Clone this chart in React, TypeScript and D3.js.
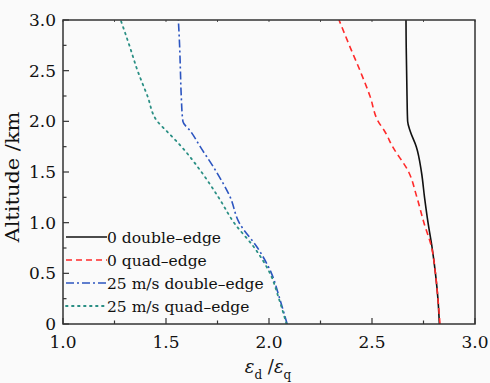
import React from "react";
import * as d3 from "d3";

const altitude = [0, 0.25, 0.5, 0.75, 1.0, 1.25, 1.5, 1.75, 1.9, 2.0, 2.25, 2.5, 2.75, 3.0];
const zeroDouble = [2.827, 2.82, 2.808, 2.792, 2.772, 2.755, 2.74, 2.715, 2.686, 2.673, 2.67, 2.668, 2.666, 2.665];
const zeroQuad = [2.83, 2.82, 2.808, 2.79, 2.752, 2.718, 2.678, 2.6, 2.562, 2.53, 2.49, 2.442, 2.39, 2.34];
const windDouble = [2.088, 2.052, 2.012, 1.945, 1.855, 1.812, 1.745, 1.666, 1.62, 1.582, 1.574, 1.57, 1.566, 1.56];
const windQuad = [2.085, 2.048, 2.005, 1.93, 1.83, 1.755, 1.672, 1.575, 1.505, 1.458, 1.41, 1.362, 1.322, 1.28];

const seriesNames = ["0 double\u2013edge", "0 quad\u2013edge", "25 m/s double\u2013edge", "25 m/s quad\u2013edge"];
const xTicks = [1.0, 1.5, 2.0, 2.5, 3.0];
const yTicks = [0, 0.5, 1.0, 1.5, 2.0, 2.5, 3.0];
const xTickLabels = ["1.0", "1.5", "2.0", "2.5", "3.0"];
const yTickLabels = ["0", "0.5", "1.0", "1.5", "2.0", "2.5", "3.0"];

const W = 490, H = 383;
const L = 63, R = 475, T = 20, B = 324;

export default function App() {
  const x = d3.scaleLinear().domain([1, 3]).range([L, R]);
  const y = d3.scaleLinear().domain([0, 3]).range([B, T]);
  const allSeries = [zeroDouble, zeroQuad, windDouble, windQuad];
  const styles = [
    { stroke: "#111", dash: "", width: 1.6 },
    { stroke: "#ff2a2a", dash: "6,4", width: 1.6 },
    { stroke: "#2c55c0", dash: "8,3,2,3", width: 1.6 },
    { stroke: "#2a8f84", dash: "1.6,4.4", width: 1.8 },
  ];
  const line = d3
    .line<[number, number]>()
    .x((d) => x(d[0]))
    .y((d) => y(d[1]))
    .curve(d3.curveMonotoneY);
  const minorX = d3.range(1, 3.0001, 0.25);
  const minorY = d3.range(0, 3.0001, 0.25);
  const font = "DejaVu Serif";
  const legY = [237, 260, 283, 306];

  return (
    <div style={{ position: "absolute", left: 0, top: 0 }}>
      <svg width={W} height={H} style={{ display: "block", background: "#fafafa" }}>
        <defs>
          <clipPath id="plot">
            <rect x={L} y={T} width={R - L} height={B - T} />
          </clipPath>
        </defs>
        <g clipPath="url(#plot)">
          {allSeries.map((s, i) => (
            <path
              key={i}
              d={line(s.map((v, j) => [v, altitude[j]] as [number, number])) || ""}
              fill="none"
              stroke={styles[i].stroke}
              strokeWidth={styles[i].width}
              strokeDasharray={styles[i].dash}
              strokeLinecap={i === 3 ? "round" : "butt"}
            />
          ))}
        </g>
        {minorX.map((v, i) => {
          const major = Math.abs(v * 2 - Math.round(v * 2)) < 1e-6;
          return (
            <g key={"xt" + i}>
              <line x1={x(v)} x2={x(v)} y1={B} y2={B - (major ? 6 : 3.5)} stroke="#333" strokeWidth={1.2} />
              <line x1={x(v)} x2={x(v)} y1={T} y2={T + 2} stroke="#555" strokeWidth={1} />
            </g>
          );
        })}
        {minorY.map((v, i) => {
          const major = Math.abs(v * 2 - Math.round(v * 2)) < 1e-6;
          return (
            <line key={"yt" + i} x1={L} x2={L + (major ? 6 : 3.5)} y1={y(v)} y2={y(v)} stroke="#333" strokeWidth={1.2} />
          );
        })}
        <rect x={L} y={T} width={R - L} height={B - T} fill="none" stroke="#333" strokeWidth={1.5} />
        {xTicks.map((v, i) => (
          <text key={"xl" + i} x={x(v)} y={348} textAnchor="middle" fontFamily={font} fontSize={17} fill="#111">
            {xTickLabels[i]}
          </text>
        ))}
        {yTicks.map((v, i) => (
          <text key={"yl" + i} x={56} y={y(v)} dy="0.36em" textAnchor="end" fontFamily={font} fontSize={17} fill="#111">
            {yTickLabels[i]}
          </text>
        ))}
        <text
          transform={`translate(19,${(T + B) / 2 + 5}) rotate(-90)`}
          textAnchor="middle"
          fontFamily={font}
          fontSize={19}
          fill="#111"
          textLength={131}
          lengthAdjust="spacingAndGlyphs"
        >
          Altitude /km
        </text>
        <text x={268} y={373} textAnchor="middle" fontFamily={font} fontSize={18} fill="#111">
          <tspan fontStyle="italic">ε</tspan>
          <tspan fontSize={12} dy={6}>d</tspan>
          <tspan dy={-6}> /</tspan>
          <tspan fontStyle="italic">ε</tspan>
          <tspan fontSize={12} dy={6}>q</tspan>
        </text>
        {seriesNames.map((name, i) => (
          <g key={"lg" + i}>
            <line
              x1={66}
              x2={107}
              y1={legY[i]}
              y2={legY[i]}
              stroke={styles[i].stroke}
              strokeWidth={styles[i].width}
              strokeDasharray={styles[i].dash}
              strokeLinecap={i === 3 ? "round" : "butt"}
            />
            <text x={107} y={legY[i]} dy="0.36em" fontFamily={font} fontSize={15.5} fill="#111">
              {name}
            </text>
          </g>
        ))}
      </svg>
    </div>
  );
}
